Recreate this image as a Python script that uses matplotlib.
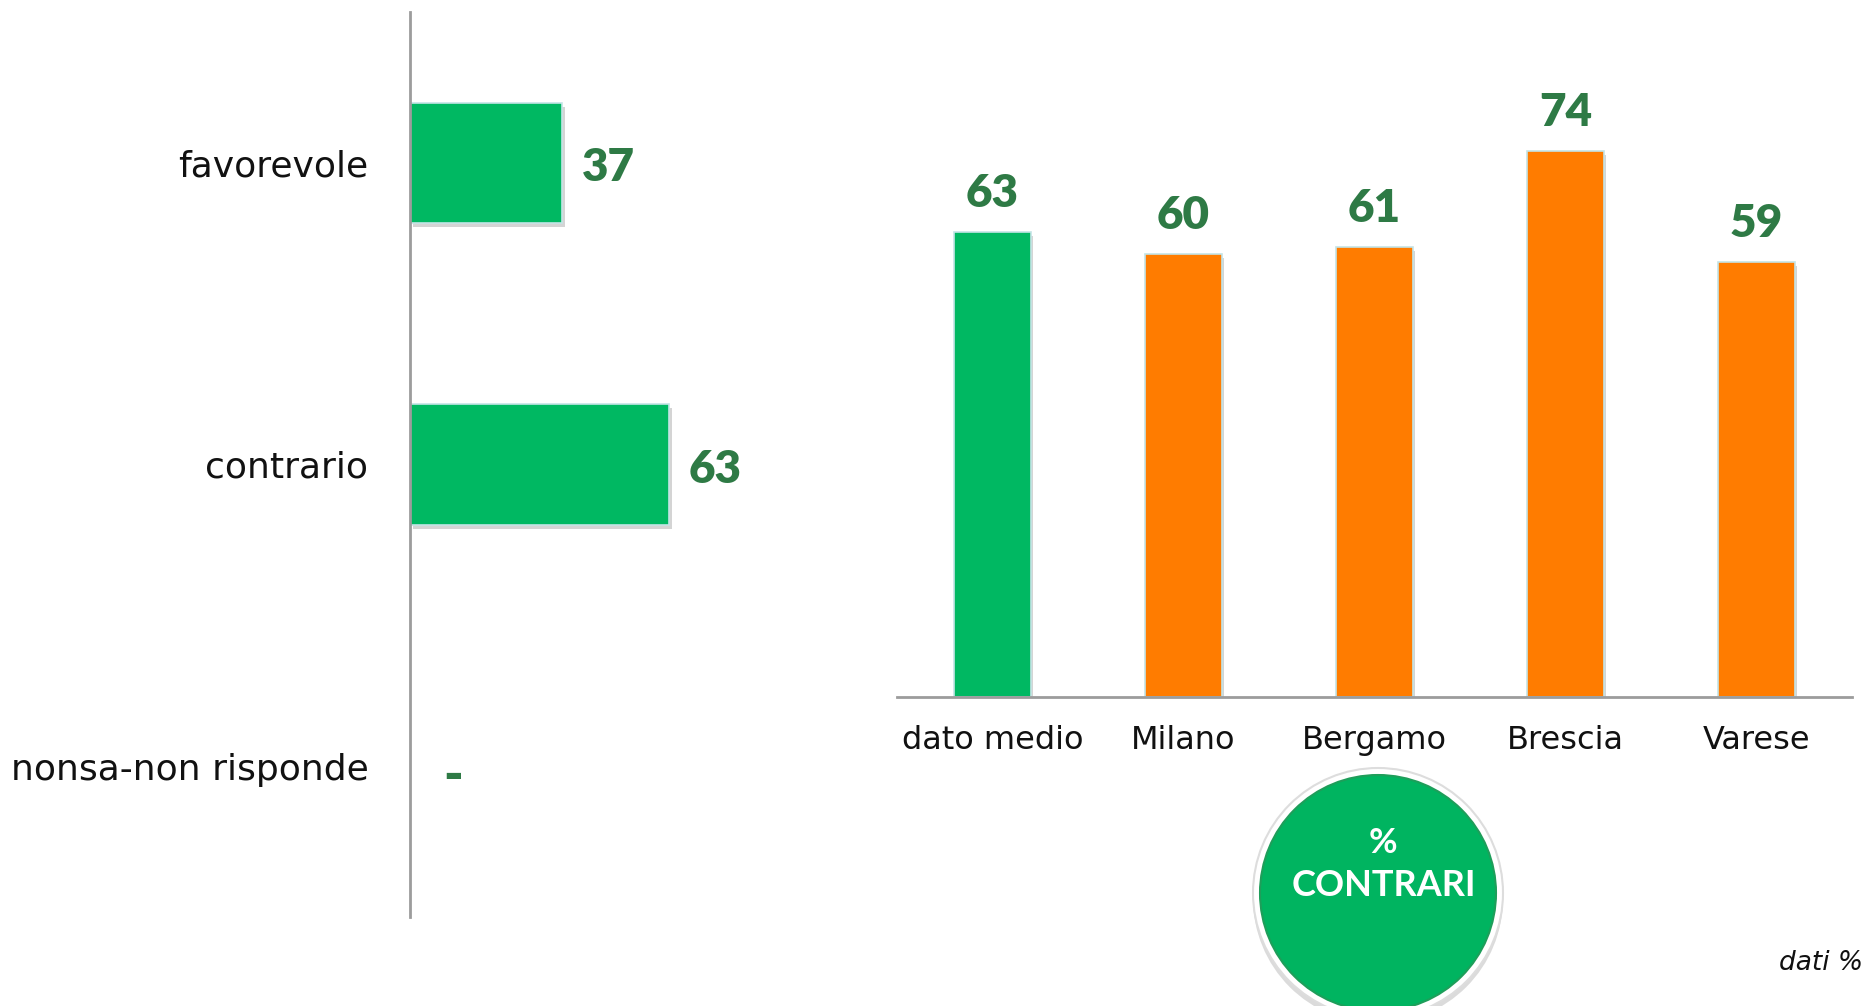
import matplotlib.pyplot as plt
import matplotlib.patheffects as pe
from matplotlib.patches import Circle

# data
answer_labels = ["favorevole", "contrario", "nonsa-non risponde"]
answer_values = [37, 63, 0]
answer_texts = ["37", "63", "-"]

city_labels = ["dato medio", "Milano", "Bergamo", "Brescia", "Varese"]
city_values = [63, 60, 61, 74, 59]

GREEN = "#00B862"
ORANGE = "#FF7C00"
LABEL_GREEN = "#2E7A45"
EDGE = "#C4E4E6"
AXIS_GRAY = "#9C9C9C"

W, H = 1867, 1006
fig = plt.figure(figsize=(W / 100, H / 100), dpi=100)

shadow = [pe.withSimplePatchShadow(offset=(2, -3), shadow_rgbFace="#555555", alpha=0.25)]

# left: horizontal bars
ax1 = fig.add_axes([410 / W, 1 - 917 / H, 400 / W, 905 / H])
ypos = list(range(len(answer_labels)))
bars = ax1.barh(ypos, answer_values, height=0.4, color=GREEN, edgecolor=EDGE, linewidth=1.2)
for b in bars:
    b.set_path_effects(shadow)
ax1.set_xlim(0, 400 / 4.11)
ax1.set_ylim(2.5, -0.5)
ax1.set_yticks(ypos)
ax1.set_yticklabels(answer_labels, fontsize=26, color="#111111")
ax1.tick_params(axis="y", length=0, pad=30)
ax1.set_xticks([])
for side in ["top", "right", "bottom"]:
    ax1.spines[side].set_visible(False)
ax1.spines["left"].set_color(AXIS_GRAY)
ax1.spines["left"].set_linewidth(2)
for y, v, t in zip(ypos, answer_values, answer_texts):
    off = (20, -5) if v else (33, -10)
    ax1.annotate(t, (v, y), xytext=(off[0] * 0.72, off[1] * 0.72), textcoords="offset points",
                 ha="left", va="center", fontsize=33 if v else 38, fontweight="heavy",
                 family="Lato", color=LABEL_GREEN)

# right: vertical bars
ax2 = fig.add_axes([897 / W, 1 - 697 / H, 955 / W, 697 / H])
xpos = list(range(len(city_labels)))
cols = [GREEN] + [ORANGE] * (len(city_labels) - 1)
bars2 = ax2.bar(xpos, city_values, width=0.4, color=cols, edgecolor=EDGE, linewidth=1.2)
for b in bars2:
    b.set_path_effects(shadow)
ax2.set_xlim(-0.5, 4.5)
ax2.set_ylim(0, 697 / 7.38)
ax2.set_xticks(xpos)
ax2.set_xticklabels(city_labels, fontsize=23, color="#111111")
ax2.tick_params(axis="x", length=0, pad=20)
ax2.set_yticks([])
for side in ["top", "right", "left"]:
    ax2.spines[side].set_visible(False)
ax2.spines["bottom"].set_color(AXIS_GRAY)
ax2.spines["bottom"].set_linewidth(2)
for x, v in zip(xpos, city_values):
    ax2.annotate(str(v), (x, v), xytext=(0, 25 * 0.72), textcoords="offset points",
                 ha="center", va="baseline", fontsize=33, fontweight="heavy",
                 family="Lato", color=LABEL_GREEN)

# badge
cx, cy = 1378 / 100, (H - 893) / 100
outer = Circle((cx, cy), 1.25, transform=fig.dpi_scale_trans, facecolor="white",
               edgecolor="#DDDDDD", linewidth=1.5, zorder=5,
               path_effects=[pe.withSimplePatchShadow(offset=(0, -4), alpha=0.2)])
inner = Circle((cx, cy), 1.18, transform=fig.dpi_scale_trans, facecolor="#00B460",
               edgecolor="#1E9E5A", linewidth=1.5, zorder=6)
fig.add_artist(outer)
fig.add_artist(inner)
fig.text(1383 / W, 1 - 843 / H, "%", ha="center", va="center", fontsize=25,
         fontweight="bold", family="Lato", color="white", zorder=7)
fig.text(1384 / W, 1 - 885 / H, "CONTRARI", ha="center", va="center", fontsize=26,
         fontweight="bold", family="Lato", color="white", zorder=7)

fig.text(1863 / W, 1 - 963 / H, "dati %", ha="right", va="center", fontsize=19,
         style="italic", color="#111111")

fig.savefig("out.png", dpi=100, facecolor="white")
